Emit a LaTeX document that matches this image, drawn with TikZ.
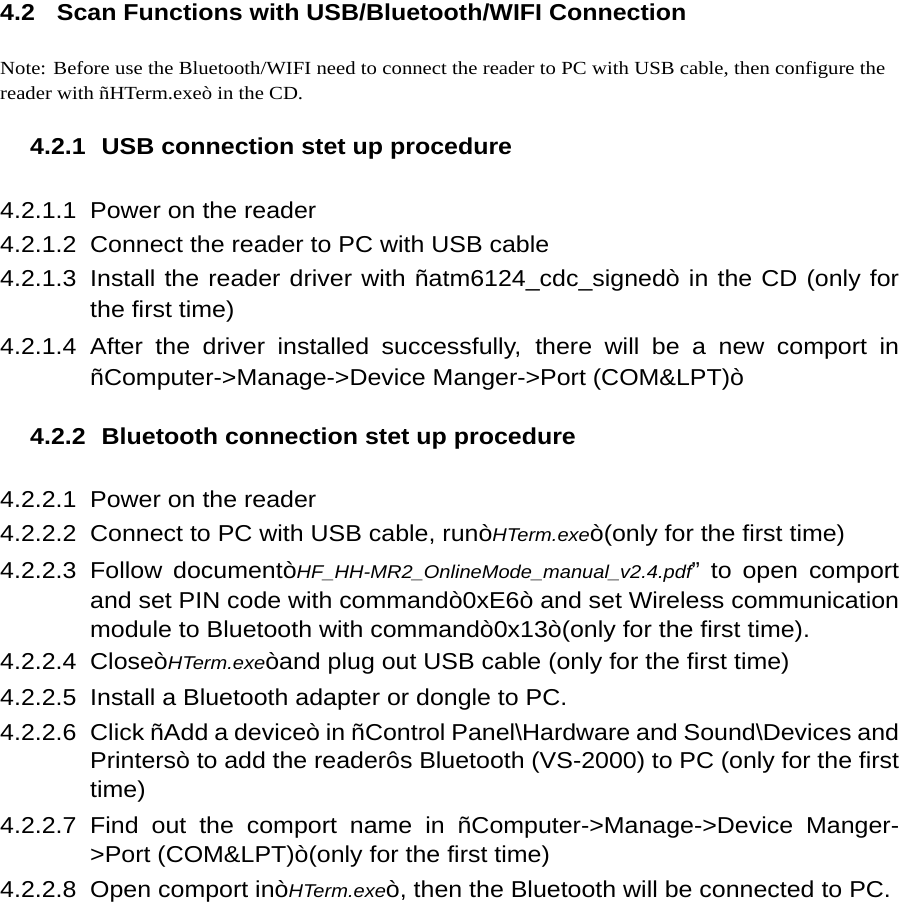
\documentclass[tikz,border=0pt]{standalone}
\usepackage{fontspec}
\setmainfont{Liberation Sans}[FakeStretch=1.085]
\newfontfamily\tms{Liberation Serif}[FakeStretch=1.12]
\tikzset{ln/.style={anchor=base west,inner sep=0pt,font=\fontsize{23}{25}\selectfont},
 hd/.style={anchor=base west,inner sep=0pt,font=\fontsize{23}{25}\selectfont\bfseries},
 nt/.style={anchor=base west,inner sep=0pt,font=\fontsize{18.5}{20}\selectfont\tms}}
\newcommand{\jl}[1]{\makebox[809pt][s]{#1}}
\newcommand{\itx}[1]{{\itshape\fontsize{18.5}{20}\selectfont #1}}
\begin{document}
\begin{tikzpicture}[x=1pt,y=-1pt]
\useasboundingbox (0,0) rectangle (899,903);
\node[hd] (h1) at (0,20) {4.2\hspace{22pt}Scan Functions with USB/Bluetooth/WIFI Connection};
\node[nt] (n1) at (0,74) {\makebox[885pt][s]{Note: Before use the Bluetooth/WIFI need to connect the reader to PC with USB cable, then configure the}};
\node[nt] (n2) at (0,99) {reader with ñHTerm.exeò in the CD.};
\node[hd] (h2) at (30,154) {4.2.1\hspace{16pt}USB connection stet up procedure};
\node[ln] (a1) at (0,218) {4.2.1.1};\node[ln] (b1) at (90,218) {Power on the reader};
\node[ln] (a2) at (0,252) {4.2.1.2};\node[ln] (b2) at (90,252) {Connect the reader to PC with USB cable};
\node[ln] (a3) at (0,286) {4.2.1.3};\node[ln] (b3) at (90,286) {\jl{Install the reader driver with ñatm6124\_cdc\_signedò in the CD (only for}};
\node[ln] (c3) at (90,317) {the first time)};
\node[ln] (a4) at (0,354) {4.2.1.4};\node[ln] (b4) at (90,354) {\jl{After the driver installed successfully, there will be a new comport in}};
\node[ln] (c4) at (90,385) {ñComputer->Manage->Device Manger->Port (COM\&LPT)ò};
\node[hd] (h3) at (30,444) {4.2.2\hspace{16pt}Bluetooth connection stet up procedure};
\node[ln] (d1) at (0,507) {4.2.2.1};\node[ln] (e1) at (90,507) {Power on the reader};
\node[ln] (d2) at (0,541) {4.2.2.2};\node[ln] (e2) at (90,541) {Connect to PC with USB cable, runò\itx{HTerm.exe}ò(only for the first time)};
\node[ln] (d3) at (0,578) {4.2.2.3};\node[ln] (e3) at (90,578) {\jl{Follow documentò\itx{HF\_HH-MR2\_OnlineMode\_manual\_v2.4.pdf}” to open comport}};
\node[ln] (f3) at (90,608) {\jl{and set PIN code with commandò0xE6ò and set Wireless communication}};
\node[ln] (g3) at (90,637) {module to Bluetooth with commandò0x13ò(only for the first time).};
\node[ln] (d4) at (0,669) {4.2.2.4};\node[ln] (e4) at (90,669) {Closeò\itx{HTerm.exe}òand plug out USB cable (only for the first time)};
\node[ln] (d5) at (0,705) {4.2.2.5};\node[ln] (e5) at (90,705) {Install a Bluetooth adapter or dongle to PC.};
\node[ln] (d6) at (0,740) {4.2.2.6};\node[ln] (e6) at (90,740) {\jl{Click ñAdd a deviceò in ñControl Panel\textbackslash Hardware and Sound\textbackslash Devices and}};
\node[ln] (f6) at (90,768) {\jl{Printersò to add the readerôs Bluetooth (VS-2000) to PC (only for the first}};
\node[ln] (g6) at (90,797) {time)};
\node[ln] (d7) at (0,833) {4.2.2.7};\node[ln] (e7) at (90,833) {\jl{Find out the comport name in ñComputer->Manage->Device Manger-}};
\node[ln] (f7) at (90,862) {>Port (COM\&LPT)ò(only for the first time)};
\node[ln] (d8) at (0,897) {4.2.2.8};\node[ln] (e8) at (90,897) {Open comport inò\itx{HTerm.exe}ò, then the Bluetooth will be connected to PC.};
\end{tikzpicture}
\end{document}
